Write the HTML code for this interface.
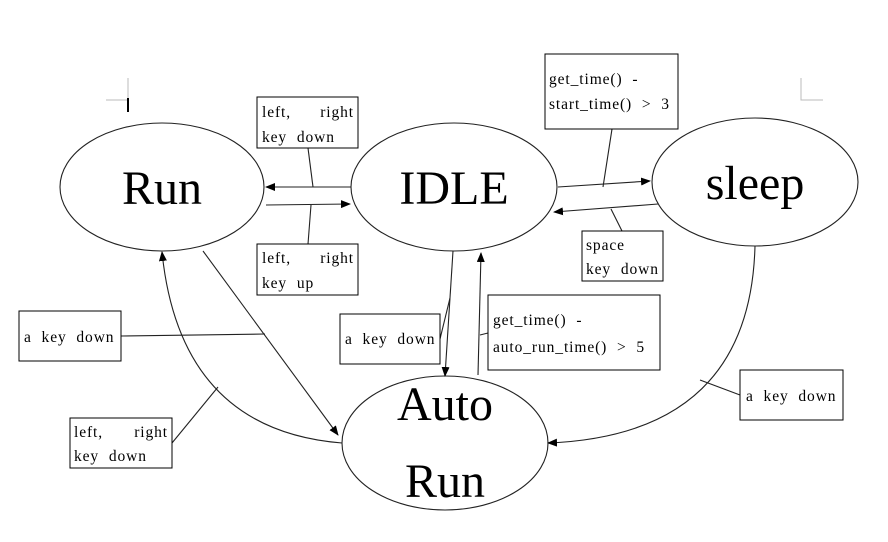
<!DOCTYPE html>
<html><head><style>
body{margin:0;background:#fff;}
svg text{font-family:"Liberation Serif","Noto Serif CJK SC",serif;fill:#000;}
.sm text{letter-spacing:0.9px;word-spacing:5px;}
</style></head><body>
<svg width="888" height="537" viewBox="0 0 888 537" xmlns="http://www.w3.org/2000/svg">
<defs><marker id="a" markerWidth="10" markerHeight="8" refX="9" refY="4" orient="auto" markerUnits="userSpaceOnUse"><path d="M0,0 L10,4 L0,8 z" fill="#000"/></marker></defs>
<g stroke="#bbb" fill="none" stroke-width="1"><path d="M106,100 H128 V78"/><path d="M801,78 V100 H823"/></g>
<line x1="128" y1="98" x2="128" y2="112" stroke="#000" stroke-width="2"/>
<g fill="none" stroke="#222" stroke-width="1.1">
<ellipse cx="162" cy="187" rx="102" ry="64"/>
<ellipse cx="454" cy="187" rx="103" ry="64"/>
<ellipse cx="755" cy="182" rx="103" ry="64"/>
<ellipse cx="445" cy="443" rx="103" ry="67"/>
<line x1="351" y1="187" x2="266" y2="187" marker-end="url(#a)"/>
<line x1="266" y1="205" x2="350" y2="204" marker-end="url(#a)"/>
<line x1="558" y1="187" x2="650" y2="181" marker-end="url(#a)"/>
<line x1="658" y1="204" x2="554" y2="212" marker-end="url(#a)"/>
<line x1="203" y1="251" x2="338" y2="435" marker-end="url(#a)"/>
<path d="M342,443 Q180,430 162,252" marker-end="url(#a)"/>
<line x1="453" y1="251" x2="445" y2="376" marker-end="url(#a)"/>
<line x1="478" y1="375" x2="481" y2="253" marker-end="url(#a)"/>
<path d="M755,246 Q750,435 548,443" marker-end="url(#a)"/>
<line x1="308" y1="148" x2="313" y2="187"/>
<line x1="308" y1="244" x2="311" y2="205"/>
<line x1="612" y1="129" x2="603" y2="187"/>
<line x1="622" y1="231" x2="611" y2="209"/>
<line x1="121" y1="336" x2="265" y2="334"/>
<line x1="172" y1="443" x2="218" y2="387"/>
<line x1="440" y1="339" x2="450" y2="298"/>
<line x1="488" y1="333" x2="480" y2="335"/>
<line x1="740" y1="395" x2="700" y2="380"/>
</g>
<g fill="#fff" stroke="#000" stroke-width="1">
<rect x="257" y="97" width="101" height="51"/>
<rect x="257" y="244" width="101" height="51"/>
<rect x="545" y="54" width="133" height="75"/>
<rect x="582" y="231" width="81" height="50"/>
<rect x="19" y="311" width="102" height="50"/>
<rect x="70" y="418" width="102" height="50"/>
<rect x="340" y="314" width="100" height="50"/>
<rect x="488" y="295" width="172" height="75"/>
<rect x="740" y="370" width="103" height="50"/>
</g>
<g font-size="48">
<text x="162" y="204" text-anchor="middle">Run</text>
<text x="454" y="204" text-anchor="middle">IDLE</text>
<text x="755" y="199" text-anchor="middle">sleep</text>
<text x="445" y="420" text-anchor="middle">Auto</text>
<text x="445" y="497" text-anchor="middle">Run</text>
</g>
<g font-size="15.5" class="sm">
<text x="262" y="117">left,</text><text x="354" y="117" text-anchor="end">right</text>
<text x="262" y="142">key down</text>
<text x="262" y="263">left,</text><text x="354" y="263" text-anchor="end">right</text>
<text x="262" y="288">key up</text>
<text x="549" y="84">get_time() -</text>
<text x="549" y="109">start_time() &gt; 3</text>
<text x="586" y="250">space</text>
<text x="586" y="274">key down</text>
<text x="24" y="342">a key down</text>
<text x="74" y="437">left,</text><text x="168" y="437" text-anchor="end">right</text>
<text x="74" y="461">key down</text>
<text x="345" y="344">a key down</text>
<text x="493" y="325">get_time() -</text>
<text x="493" y="352">auto_run_time() &gt; 5</text>
<text x="746" y="401">a key down</text>
</g>
</svg>
</body></html>
